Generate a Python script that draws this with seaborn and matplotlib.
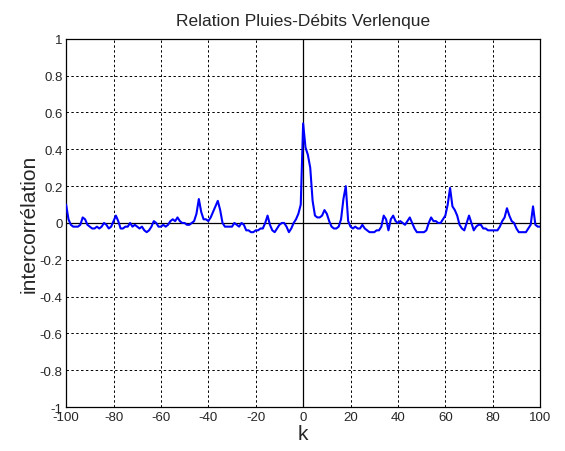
import numpy as np
import pandas as pd
import matplotlib
matplotlib.use("Agg")
import matplotlib.pyplot as plt
import seaborn as sns

# Décalages k (de -100 à 100)
lags = list(range(-100, 101))

# Intercorrélation pluies-débits
xcorr = [
    0.10, 0.02, -0.01, -0.02, -0.02, -0.02, -0.01, 0.03, 0.02, -0.01,      # -100..-91
    -0.02, -0.03, -0.03, -0.02, -0.03, -0.02, 0.00, -0.01, -0.03, -0.02,   # -90..-81
    0.01, 0.04, 0.01, -0.03, -0.03, -0.02, -0.02, 0.00, -0.02, -0.01,      # -80..-71
    -0.02, -0.03, -0.02, -0.04, -0.05, -0.04, -0.02, 0.01, 0.00, -0.02,    # -70..-61
    -0.02, -0.01, -0.02, -0.01, 0.01, 0.02, 0.01, 0.03, 0.01, 0.00,        # -60..-51
    0.00, -0.01, -0.01, 0.00, 0.01, 0.05, 0.13, 0.06, 0.02, 0.02,          # -50..-41
    0.01, 0.03, 0.06, 0.09, 0.12, 0.07, 0.00, -0.02, -0.02, -0.02,         # -40..-31
    -0.02, 0.00, -0.01, -0.02, 0.00, -0.01, -0.04, -0.04, -0.05, -0.05,    # -30..-21
    -0.04, -0.04, -0.03, -0.03, 0.00, 0.04, -0.01, -0.04, -0.05, -0.03,    # -20..-11
    -0.01, 0.00, 0.00, -0.02, -0.05, -0.03, 0.00, 0.02, 0.05, 0.10,        # -10..-1
    0.54, 0.41, 0.37, 0.30, 0.12, 0.04, 0.03, 0.03, 0.04, 0.07,            # 0..9
    0.05, 0.01, -0.02, -0.03, -0.03, -0.02, 0.02, 0.13, 0.20, 0.01,        # 10..19
    -0.02, -0.03, -0.02, -0.03, -0.03, -0.01, -0.03, -0.04, -0.05, -0.05,  # 20..29
    -0.05, -0.04, -0.04, -0.02, 0.04, 0.02, -0.04, 0.02, 0.04, 0.01,       # 30..39
    0.00, 0.01, 0.00, -0.01, 0.01, 0.03, 0.00, -0.03, -0.05, -0.05,        # 40..49
    -0.05, -0.05, -0.04, 0.00, 0.03, 0.01, 0.01, 0.00, 0.00, 0.02,         # 50..59
    0.04, 0.10, 0.19, 0.09, 0.07, 0.04, -0.01, -0.03, -0.04, 0.00,         # 60..69
    0.04, 0.00, -0.04, -0.02, -0.01, -0.01, -0.03, -0.03, -0.04, -0.04,    # 70..79
    -0.04, -0.04, -0.04, -0.02, 0.01, 0.03, 0.08, 0.04, 0.01, 0.00,        # 80..89
    -0.03, -0.05, -0.05, -0.05, -0.05, -0.03, -0.01, 0.09, -0.01, -0.02,   # 90..99
    -0.02,                                                                 # 100
]

xticks = list(range(-100, 101, 20))
yticks = [-1, -0.8, -0.6, -0.4, -0.2, 0, 0.2, 0.4, 0.6, 0.8, 1]
ytick_labels = ["-1", "-0.8", "-0.6", "-0.4", "-0.2", "0", "0.2", "0.4", "0.6", "0.8", "1"]

sns.set_theme(style="white")
plt.rcParams["font.family"] = ["Liberation Sans", "DejaVu Sans"]

df = pd.DataFrame({"k": lags, "r": xcorr})

fig = plt.figure(figsize=(5.65, 4.52), dpi=100)
ax = fig.add_axes([0.117, 0.097, 0.839, 0.815])

# axes à zéro (style Matlab)
ax.axhline(0, color="black", linewidth=0.9, zorder=1)
ax.axvline(0, color="black", linewidth=0.9, zorder=1)

sns.lineplot(data=df, x="k", y="r", color="#0000ff", linewidth=1.5, ax=ax, zorder=3)

ax.set_xlim(-100, 100)
ax.set_ylim(-1, 1)
ax.set_xticks(xticks)
ax.set_xticklabels([str(t) for t in xticks], fontsize=9.5)
ax.set_yticks(yticks)
ax.set_yticklabels(ytick_labels, fontsize=9.5)
ax.tick_params(direction="in", length=4, color="black", pad=2.5)
ax.grid(True, color="black", linestyle=(0, (2.5, 2.5)), linewidth=0.7)

for s in ax.spines.values():
    s.set_color("black")
    s.set_linewidth(0.9)

ax.set_title("Relation Pluies-Débits Verlenque", fontsize=12.5, pad=10)
ax.set_xlabel("k", fontsize=15, labelpad=1)
ax.set_ylabel("intercorrélation", fontsize=15, labelpad=1)

fig.savefig("out.png", dpi=100)
